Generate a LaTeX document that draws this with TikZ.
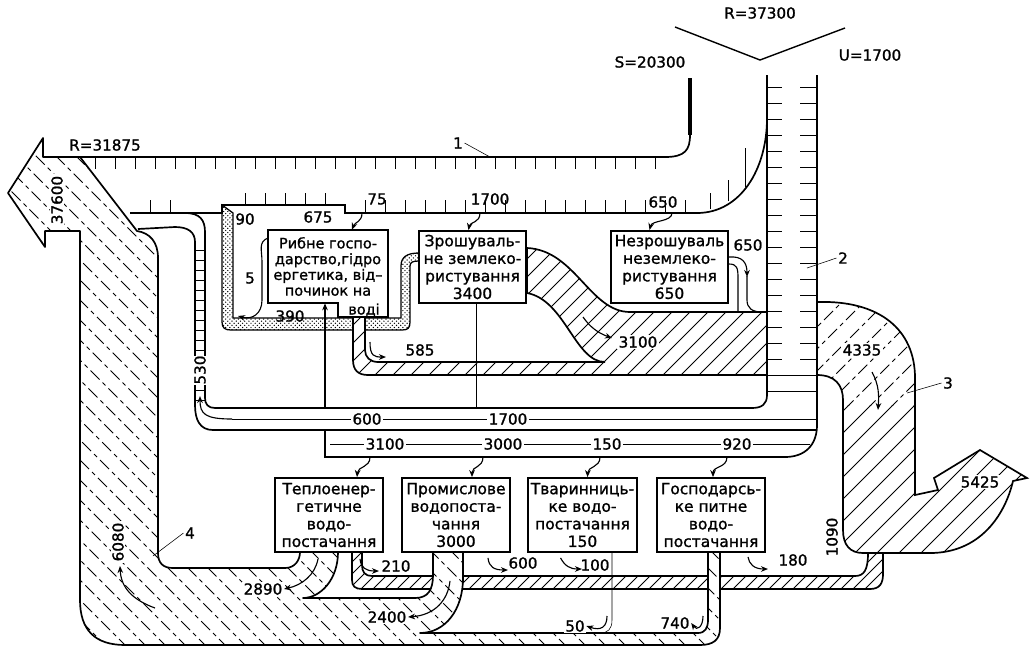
\documentclass[tikz,border=0pt]{standalone}
\usepackage{fontspec}
\setmainfont{DejaVu Sans}[FakeBold=1.2]
\usetikzlibrary{arrows.meta,calc,patterns}

% outlines of the flows (pixel units, y down)
\newcommand\flowfour{(80,157) -- (43,157) -- (43,138) -- (8,193) -- (45,247) -- (45,231) -- (80,231) -- (80,600) .. controls (80,630) and (95,645) .. (125,645) -- (700,645) .. controls (713,645) and (720,640) .. (720,628) -- (720,552) -- (708,552) -- (708,620) .. controls (708,628) and (705,633) .. (698,633) -- (420,633) .. controls (445,633) and (463,610) .. (463,578) -- (463,552) -- (433,552) -- (433,575) .. controls (433,590) and (428,598) .. (415,598) -- (303,598) .. controls (320,598) and (338,580) .. (338,552) -- (300,552) .. controls (300,560) and (295,568) .. (285,568) -- (173,568) .. controls (163,568) and (158,563) .. (158,553) -- (158,258) .. controls (158,242) and (150,233) .. (137,231) -- cycle}
\newcommand\flowthree{(817,302) .. controls (880,300) and (915,330) .. (915,378) -- (915,495) -- (938,490) -- (934,478) -- (980,450) -- (1027,478) -- (1013,481) .. controls (1005,515) and (980,553) .. (930,553) -- (863,553) .. controls (850,553) and (843,545) .. (843,530) -- (843,400) .. controls (843,385) and (835,375) .. (817,375) -- cycle}
\newcommand\flowmid{(353,317) -- (353,360) .. controls (353,370) and (358,375) .. (368,375) -- (767,375) -- (767,312) -- (630,312) .. controls (590,312) and (575,250) .. (527,248) -- (527,293) .. controls (565,300) and (575,362) .. (605,362) -- (378,362) .. controls (370,362) and (365,357) .. (365,350) -- (365,317) -- cycle}
\newcommand\flowret{(352,552) -- (352,580) .. controls (352,586) and (355,589) .. (362,589) -- (870,589) .. controls (880,589) and (883,583) .. (883,574) -- (883,553) -- (868,553) .. controls (868,570) and (864,576) .. (855,576) -- (372,576) .. controls (365,576) and (362,572) .. (362,565) -- (362,552) -- cycle}
\newcommand\flowfish{(222,205) -- (222,322) .. controls (222,328) and (225,330) .. (231,330) -- (402,330) .. controls (408,330) and (410,328) .. (410,322) -- (410,266) .. controls (410,262) and (413,261) .. (419,261) -- (419,253) .. controls (407,253) and (401,257) .. (401,266) -- (401,318) -- (233,318) -- (233,213) -- cycle}

\begin{document}
\begin{tikzpicture}[x=0.025cm, y=-0.025cm,
  edge/.style={line width=1.2pt},
  box/.style={draw, line width=1.3pt, fill=white, inner sep=0pt, align=center, font=\fontsize{11}{12.5}\selectfont},
  num/.style={inner sep=1pt, font=\fontsize{10.8}{12}\selectfont},
  flow/.style={-{Stealth[length=5pt,width=4pt]}, line width=0.8pt},
  hatch/.style={line width=0.7pt},
  hatchd/.style={line width=0.7pt, dash pattern=on 9pt off 3pt on 3pt off 3pt}]
\useasboundingbox (0,0) rectangle (1030,646);

% fish loop
\draw[line width=0.9pt, pattern=crosshatch dots] \flowfish;

% middle flow (3100 + 585 + 650)
\fill[white] \flowmid;
\begin{scope}
  \clip \flowmid;
  \foreach \i in {0,18,...,500} \draw[hatch] (\i,660) -- ++(560,-560);
\end{scope}
\draw[edge] \flowmid;

% flow 3
\fill[white] \flowthree;
\begin{scope}
  \clip \flowthree; \clip (800,405) rectangle (1040,600);
  \foreach \i in {440,462,...,860} \draw[hatch] (\i,660) -- ++(560,-560);
\end{scope}
\begin{scope}
  \clip \flowthree; \clip (800,290) rectangle (1040,405);
  \foreach \i in {440,462,...,860} \draw[hatchd] (\i,660) -- ++(560,-560);
\end{scope}
\draw[edge] \flowthree;

% return band 1090
\fill[white] \flowret;
\begin{scope}
  \clip \flowret;
  \foreach \i in {230,242,...,830} \draw[hatch] (\i,660) -- ++(560,-560);
\end{scope}
\draw[edge] \flowret;

% flow 4
\fill[white] \flowfour;
\begin{scope}
  \clip \flowfour;
  \foreach \i in {-460,-440,...,300} \draw[hatchd] (\i,120) -- ++(540,540);
\end{scope}
\draw[edge, line join=round] \flowfour;

% flow 1
\draw[edge] (43,157) -- (665,157) .. controls (685,157) and (690,150) .. (690,135) -- (690,78);
\draw[line width=2.4pt] (690,78) -- (690,135);
\draw[edge] (130,213) -- (222,213) -- (222,205) -- (345,205) -- (345,213) -- (697,213) .. controls (740,213) and (767,170) .. (767,118);
\foreach \x in {95,115,...,655} \draw (\x,157) -- (\x,169);
\foreach \x in {150,170} \draw (\x,213) -- (\x,200);
\foreach \x in {245,265,...,325} \draw (\x,205) -- (\x,193);
\foreach \x in {365,385,...,685} \draw (\x,213) -- (\x,200);
\draw (710,209) -- (710,193); \draw (728,201) -- (728,180); \draw (745,187) -- (745,148);

% flow 2 and the bands below
\draw[edge] (767,75) -- (767,395) .. controls (767,404) and (762,408) .. (752,408) -- (215,408) .. controls (208,408) and (205,404) .. (205,398) -- (205,232) .. controls (205,220) and (200,213) .. (185,213);
\draw[edge] (817,75) -- (817,425) .. controls (817,445) and (805,457) .. (785,457) -- (325,457) -- (325,430) -- (213,430) .. controls (200,430) and (195,420) .. (195,405) -- (195,242) .. controls (195,232) and (188,227) .. (175,227) -- (138,229);
\draw[edge] (325,430) -- (817,430);
\foreach \y in {87,103,...,359} {\draw (767,\y) -- (782,\y); \draw (800,\y) -- (817,\y);}
\foreach \y in {375,391} \draw (767,\y) -- (817,\y);
\foreach \y in {250,260,...,400} \draw (195,\y) -- (205,\y);
\draw (232,419) -- (817,419);
\draw (330,444) -- (810,444);

% top
\draw[line width=1pt] (675,27) -- (760,60) -- (845,28);

% boxes
\node[inner sep=0pt, align=center, font=\fontsize{10.3}{11.2}\selectfont, minimum width=3cm, minimum height=1.825cm] (fish) at (328,266.5) {Рибне госпо-\\дарство,гідро\\ергетика, від–\\починок на};
\draw[line width=1.3pt] (fish.north west) -- (fish.north east) -- ($(fish.south east)+(0,14)$) -- ($(fish.south east)+(-50,14)$) -- ($(fish.south east)+(-50,0)$) -- (fish.south west) -- cycle;
\node[inner sep=0pt, font=\fontsize{10.3}{11.2}\selectfont] (fishb) at (364,310) {воді};
\node[box, minimum width=2.675cm, minimum height=1.8cm] (irr) at (472.5,267) {Зрошуваль-\\не землеко-\\ристування\\3400};
\node[box, minimum width=2.925cm, minimum height=1.8cm] (nezr) at (669.5,267) {Незрошуваль\\неземлеко-\\ристування\\650};
\node[box, minimum width=2.7cm, minimum height=1.85cm] (teplo) at (329,515) {Теплоенер-\\гетичне\\водо-\\постачання};
\node[box, minimum width=2.7cm, minimum height=1.85cm] (prom) at (456,515) {Промислове\\водопоста-\\чання\\3000};
\node[box, minimum width=2.725cm, minimum height=1.85cm] (tvar) at (582.5,515) {Тваринниць-\\ке водо-\\постачання\\150};
\node[box, minimum width=2.7cm, minimum height=1.85cm] (gosp) at (711,515) {Господарсь-\\ке питне\\водо-\\постачання};

% lines from the boxes
\draw ($(irr.south)+(4,0)$) -- (476.5,408);
\draw[flow] (325,408) -- ($(fish.south)+(-3,0)$);
\draw ($(tvar.south)+(29.5,0)$) -- (612,620) .. controls (612,629) and (608,633) .. (600,633);
\draw[line width=0.8pt] ($(nezr.east)+(0,-3)$) .. controls (737,264) and (738,268) .. (738,278) -- (738,312);
\draw[line width=0.8pt] (747,276) -- (747,300) .. controls (747,308) and (752,312) .. (762,312);

% labels
\node[num] (nR) at (760,13) {R=37300};
\node[num] (nS) at (650,62) {S=20300};
\node[num] (nU) at (870,55) {U=1700};
\node[num] (nR2) at (105,145) {R=31875};
\node[num, fill=white, rotate=90] (n37600) at (57,200) {37600};
\node[num] (n1) at (458,143) {1};
\node[num] (n2) at (843,258) {2};
\node[num] (n3) at (948,383) {3};
\node[num] (n4) at (190,533) {4};
\node[num] (n90) at (245,219) {90};
\node[num] (n675) at (318,217) {675};
\node[num] (n75) at (377,199) {75};
\node[num] (n1700a) at (490,199) {1700};
\node[num] (n650a) at (663,202) {650};
\node[num] (n5) at (250,278) {5};
\node[num] (n390) at (290,316) {390};
\node[num] (n585) at (420,350) {585};
\node[num, fill=white] (n3100a) at (638,342) {3100};
\node[num] (n650b) at (748,245) {650};
\node[num, fill=white] (n4335) at (862,350) {4335};
\node[num, fill=white] (n5425) at (980,482) {5425};
\node[num, rotate=90] (n1090) at (832,537) {1090};
\node[num, fill=white] (n600a) at (367,419) {600};
\node[num, fill=white] (n1700b) at (508,419) {1700};
\node[num, fill=white] (n3100b) at (385,444) {3100};
\node[num, fill=white] (n3000) at (503,444) {3000};
\node[num, fill=white] (n150) at (607,444) {150};
\node[num, fill=white] (n920) at (737,444) {920};
\node[num, fill=white] (n2890) at (263,589) {2890};
\node[num] (n210) at (396,566) {210};
\node[num, fill=white] (n2400) at (387,617) {2400};
\node[num] (n600b) at (523,563) {600};
\node[num] (n100) at (595,565) {100};
\node[num] (n180) at (793,560) {180};
\node[num, fill=white] (n50) at (575,626) {50};
\node[num, fill=white] (n740) at (675,623) {740};
\node[num, fill=white, rotate=90] (n6080) at (118,542) {6080};
\node[num, fill=white, rotate=90, inner sep=0pt] (n530) at (200,370) {530};

% leaders
\coordinate (c1) at (490,157);
\coordinate (c2) at (807,268);
\coordinate (c3) at (907,393);
\coordinate (c4) at (153,556);
\draw (n1.east) -- (c1);
\draw (n2.west) -- (c2);
\draw (n3.west) -- (c3);
\draw (n4.west) -- (c4);

% feeding arrows
\coordinate (a675) at (362,213);
\coordinate (a1700) at (480,213);
\coordinate (a650) at (672,213);
\coordinate (b3100) at (370,457);
\coordinate (b3000) at (483,457);
\coordinate (b150) at (600,457);
\coordinate (b920) at (727,457);
\draw[flow] (a675) .. controls (362,222) and (355,222) .. ($(fish.north)+(24,0)$);
\draw[flow] (a1700) .. controls (480,223) and (470,222) .. ($(irr.north)+(-4,0)$);
\draw[flow] (a650) .. controls (672,222) and (652,220) .. ($(nezr.north)+(-20,0)$);
\draw[flow] (b3100) .. controls (370,468) and (358,466) .. ($(teplo.north)+(28,0)$);
\draw[flow] (b3000) .. controls (483,468) and (472,466) .. ($(prom.north)+(16,0)$);
\draw[flow] (b150) .. controls (600,468) and (588,466) .. ($(tvar.north)+(5,0)$);
\draw[flow] (b920) .. controls (727,468) and (713,466) .. ($(gosp.north)+(2,0)$);

% arrows along the flows
\coordinate (s5) at (268,238);
\coordinate (s585) at (370,342);
\coordinate (s3100) at (583,317);
\coordinate (s530) at (232,419);
\coordinate (s6080) at (155,608);
\coordinate (s4335) at (872,372);
\coordinate (s50) at (607,616);
\coordinate (s740) at (703,616);
\draw[flow] (s5) .. controls (258,242) and (262,250) .. (262,262) -- (262,300) .. controls (262,314) and (252,320) .. (238,316);
\draw[flow] (s585) .. controls (370,356) and (374,357) .. (386,357);
\draw[flow] (s3100) .. controls (590,327) and (598,333) .. (612,338);
\draw[flow] ($(nezr.east)+(0,-10)$) .. controls (742,256) and (747,262) .. (747,277);
\draw[flow] (s530) .. controls (205,419) and (200,414) .. (200,396);
\draw[flow] (s6080) .. controls (133,600) and (121,588) .. (120,566);
\draw[flow] (s4335) .. controls (879,385) and (879,395) .. (878,410);
\draw[flow] ($(teplo.south)+(-11,6)$) .. controls (315,575) and (302,585) .. (n2890.east);
\draw[flow] ($(prom.south)+(-6,28)$) .. controls (448,600) and (435,615) .. (n2400.east);
\draw[flow] ($(teplo.south)+(31,6)$) .. controls (361,568) and (366,571) .. (379,571);
\draw[flow] ($(prom.south)+(32,5)$) .. controls (489,567) and (494,570) .. (508,570);
\draw[flow] ($(tvar.south)+(-22,5)$) .. controls (565,566) and (570,569) .. (582,569);
\draw[flow] ($(gosp.south)+(37,4)$) .. controls (749,564) and (754,569) .. (768,569);
\draw[flow] (s50) .. controls (607,627) and (601,631) .. (n50.east);
\draw[flow] (s740) .. controls (703,627) and (697,631) .. (n740.east);
\end{tikzpicture}
\end{document}
